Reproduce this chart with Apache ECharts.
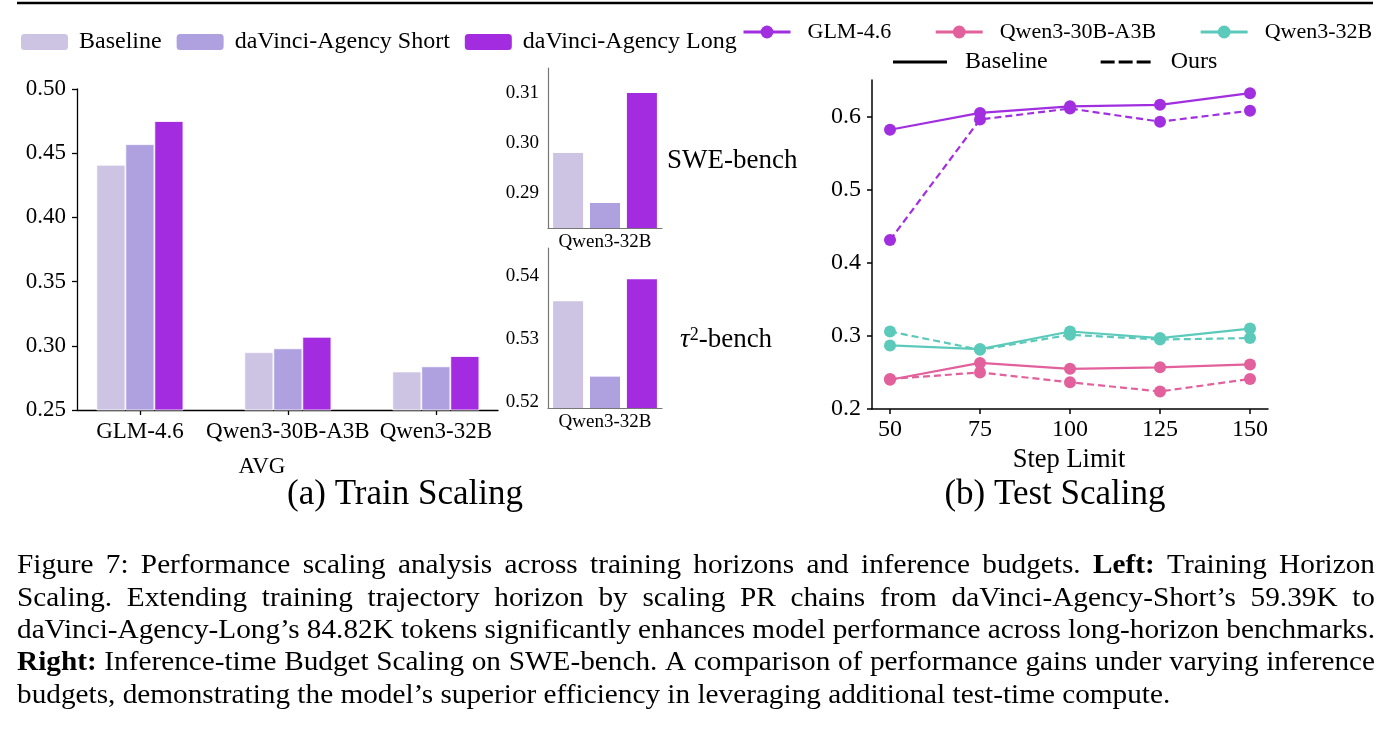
<!DOCTYPE html>
<html>
<head>
<meta charset="utf-8">
<script src="https://cdn.jsdelivr.net/npm/echarts@6.0.0/dist/echarts.min.js"></script>
<style>
html, body { margin: 0; padding: 0; background: #fff; }
#chart { width: 1392px; height: 739px; }
</style>
</head>
<body>
<div id="chart"></div>
<script>
// (a) train scaling - AVG
var models = ["GLM-4.6", "Qwen3-30B-A3B", "Qwen3-32B"];
var barNames = ["Baseline", "daVinci-Agency Short", "daVinci-Agency Long"];
var avgBaseline = [0.441, 0.295, 0.280];
var avgShort = [0.457, 0.298, 0.284];
var avgLong = [0.475, 0.307, 0.292];

// insets (Qwen3-32B only), order: baseline, short, long
var insetModel = ["Qwen3-32B"];
var sweValues = [0.298, 0.288, 0.310];
var tauValues = [0.536, 0.524, 0.5395];
var sweTicks = [0.29, 0.30, 0.31];
var tauTicks = [0.52, 0.53, 0.54];

// (b) test scaling
var stepLimits = [50, 75, 100, 125, 150];
var testTicks = [0.2, 0.3, 0.4, 0.5, 0.6];
var glmBaseline = [0.582, 0.605, 0.614, 0.616, 0.632];
var glmOurs = [0.431, 0.596, 0.611, 0.593, 0.608];
var q30Baseline = [0.240, 0.263, 0.255, 0.257, 0.261];
var q30Ours = [0.241, 0.250, 0.2365, 0.224, 0.241];
var q32Baseline = [0.287, 0.282, 0.306, 0.297, 0.310];
var q32Ours = [0.306, 0.281, 0.3015, 0.295, 0.297];

var captionLines = [
	"Figure 7: Performance scaling analysis across training horizons and inference budgets. **Left:** Training Horizon",
	"Scaling.  Extending training trajectory horizon by scaling PR chains from daVinci-Agency-Short\u2019s 59.39K to",
	"daVinci-Agency-Long\u2019s 84.82K tokens significantly enhances model performance across long-horizon benchmarks.",
	"**Right:** Inference-time Budget Scaling on SWE-bench. A comparison of performance gains under varying inference",
	"budgets, demonstrating the model\u2019s superior efficiency in leveraging additional test-time compute."
];

var FONT = "Liberation Serif";
var barColors = ["#cdc4e3", "#afa0e0", "#a32be0"];
var lineColors = ["#a12fe0", "#e2609c", "#5ccabb"];

function pairs(xs, ys) {
	return xs.map(function(x, i) { return [x, ys[i]]; });
}

function blackAxis(w) {
	return { show: true, onZero: false, lineStyle: { color: "#000", width: w } };
}

function labelStyle(size, extra) {
	var o = { color: "#000", fontFamily: FONT, fontSize: size };
	for (var k in extra) o[k] = extra[k];
	return o;
}

function font(size, bold) {
	return (bold ? "bold " : "") + size + "px '" + FONT + "'";
}

// caption: justified lines, word by word, slightly widened glyphs
function captionGraphics() {
	var ctx = document.createElement("canvas").getContext("2d");
	var size = 28, sx = 1.045, left = 17, right = 1375, y0 = 566, step = 32.3;
	var out = [];
	captionLines.forEach(function(line, li) {
		var words = line.split(/ +/).map(function(w) {
			var bold = /^\*\*.*\*\*$/.test(w);
			return { text: bold ? w.slice(2, -2) : w, bold: bold };
		});
		var total = 0;
		words.forEach(function(w) {
			ctx.font = font(size, w.bold);
			w.width = ctx.measureText(w.text).width * sx;
			total += w.width;
		});
		var last = li === captionLines.length - 1;
		ctx.font = font(size);
		var gap = last ? ctx.measureText(" ").width * sx : (right - left - total) / (words.length - 1);
		var x = left;
		words.forEach(function(w) {
			out.push({
				type: "text", x: x, y: y0 + li * step, scaleX: sx, originX: 0,
				style: { text: w.text, fill: "#000", font: font(size, w.bold), textVerticalAlign: "middle" }
			});
			x += w.width + gap;
		});
	});
	return out;
}

var series = [];
[avgBaseline, avgShort, avgLong].forEach(function(vals, k) {
	series.push({
		name: barNames[k], type: "bar", xAxisIndex: 0, yAxisIndex: 0,
		data: pairs([0, 1, 2], vals), barWidth: 29, barGap: "0%",
		itemStyle: { color: barColors[k], borderColor: "#fff", borderWidth: 0.8 }
	});
	series.push({
		name: barNames[k], type: "bar", xAxisIndex: 1, yAxisIndex: 1,
		data: [sweValues[k]], barWidth: 30, barGap: "23%",
		itemStyle: { color: barColors[k] }
	});
	series.push({
		name: barNames[k], type: "bar", xAxisIndex: 2, yAxisIndex: 2,
		data: [tauValues[k]], barWidth: 30, barGap: "23%",
		itemStyle: { color: barColors[k] }
	});
});

// solid (baseline) first so the legend picks the solid style
var lineSets = [[glmBaseline, glmOurs], [q30Baseline, q30Ours], [q32Baseline, q32Ours]];
lineSets.forEach(function(set, k) {
	set.forEach(function(vals, j) {
		series.push({
			name: models[k], type: "line", xAxisIndex: 3, yAxisIndex: 3,
			data: pairs(stepLimits, vals), symbol: "circle", symbolSize: 12,
			color: lineColors[k],
			lineStyle: { width: 2.2, type: j === 1 ? [7, 4] : "solid" },
			z: j === 1 ? 2 : 3
		});
	});
});
// style-only entries for the second legend row
series.push({ name: "style-Baseline", type: "line", xAxisIndex: 3, yAxisIndex: 3, data: [], color: "#000", symbol: "none" });
series.push({ name: "style-Ours", type: "line", xAxisIndex: 3, yAxisIndex: 3, data: [], color: "#000", symbol: "none" });

var insetAxisLine = { show: true, onZero: false, lineStyle: { color: "#777", width: 1.2 } };

var option = {
	backgroundColor: "#fff",
	animation: false,
	grid: [
		{ left: 77, top: 89, width: 421, height: 321, outerBoundsMode: "none" },
		{ left: 548, top: 68, width: 114, height: 160, outerBoundsMode: "none" },
		{ left: 548, top: 248, width: 114, height: 160, outerBoundsMode: "none" },
		{ left: 872, top: 80, width: 396, height: 329, outerBoundsMode: "none" }
	],
	legend: [
		{
			data: barNames, left: 19, top: 30, padding: 0, itemWidth: 49, itemHeight: 18, itemGap: 13,
			selectedMode: false, textStyle: labelStyle(24, { padding: [0, 0, 0, 5] })
		},
		{
			data: models, left: 742, top: 21, padding: 0, itemWidth: 47, itemHeight: 16, itemGap: 43,
			selectedMode: false, lineStyle: { width: 3 },
			textStyle: labelStyle(22, { padding: [0, 0, 0, 12] })
		},
		{
			data: [
				{ name: "style-Baseline", icon: "path://M0,0H54V3H0Z" },
				{ name: "style-Ours", icon: "path://M0,0H14V3H0Z M18,0H32V3H18Z M36,0H50V3H36Z" }
			],
			left: 893, top: 50, padding: 0, itemWidth: 54, itemHeight: 3, itemGap: 53,
			selectedMode: false, itemStyle: { borderWidth: 0 },
			formatter: function(n) { return n.replace("style-", ""); },
			textStyle: labelStyle(24, { padding: [0, 0, 0, 13] })
		}
	],
	xAxis: [
		{
			gridIndex: 0, type: "value", min: -0.425, max: 2.42,
			axisLine: blackAxis(1.3),
			axisTick: { show: true, customValues: [0, 1, 2], length: 5, lineStyle: { color: "#000", width: 1.3 } },
			axisLabel: labelStyle(23, { customValues: [0, 1, 2], margin: 10,
				formatter: function(v) { return models[Math.round(v)]; } }),
			splitLine: { show: false }
		},
		{
			gridIndex: 1, type: "category", data: insetModel,
			axisLine: insetAxisLine, axisTick: { show: false },
			axisLabel: labelStyle(19, { margin: 5 })
		},
		{
			gridIndex: 2, type: "category", data: insetModel,
			axisLine: insetAxisLine, axisTick: { show: false },
			axisLabel: labelStyle(19, { margin: 5 })
		},
		{
			gridIndex: 3, type: "value", min: 45, max: 155,
			axisLine: blackAxis(1.5),
			axisTick: { show: true, customValues: stepLimits, length: 5, lineStyle: { color: "#000", width: 1.5 } },
			axisLabel: labelStyle(24, { customValues: stepLimits, margin: 9 }),
			splitLine: { show: false }
		}
	],
	yAxis: [
		{
			gridIndex: 0, type: "value", min: 0.25, max: 0.5, interval: 0.05,
			axisLine: blackAxis(1.3),
			axisTick: { show: true, length: 5, lineStyle: { color: "#000", width: 1.3 } },
			axisLabel: labelStyle(23, { margin: 11, formatter: function(v) { return v.toFixed(2); } }),
			splitLine: { show: false }
		},
		{
			gridIndex: 1, type: "value", min: 0.283, max: 0.315,
			axisLine: insetAxisLine, axisTick: { show: false },
			axisLabel: labelStyle(19, { customValues: sweTicks, margin: 9, formatter: function(v) { return v.toFixed(2); } }),
			splitLine: { show: false }
		},
		{
			gridIndex: 2, type: "value", min: 0.519, max: 0.5445,
			axisLine: insetAxisLine, axisTick: { show: false },
			axisLabel: labelStyle(19, { customValues: tauTicks, margin: 9, formatter: function(v) { return v.toFixed(2); } }),
			splitLine: { show: false }
		},
		{
			gridIndex: 3, type: "value", min: 0.2, max: 0.65,
			axisLine: blackAxis(1.5),
			axisTick: { show: true, customValues: testTicks, length: 5, lineStyle: { color: "#000", width: 1.5 } },
			axisLabel: labelStyle(24, { customValues: testTicks, margin: 11, formatter: function(v) { return v.toFixed(1); } }),
			splitLine: { show: false }
		}
	],
	graphic: [
		{ type: "line", shape: { x1: 17, y1: 3, x2: 1373, y2: 3 }, style: { stroke: "#000", lineWidth: 2.5 } },
		{ type: "text", x: 262, y: 467, style: { text: "AVG", fill: "#000", font: font(23), textAlign: "center", textVerticalAlign: "middle" } },
		{ type: "text", x: 405, y: 495, style: { text: "(a) Train Scaling", fill: "#000", font: font(35), textAlign: "center", textVerticalAlign: "middle" } },
		{ type: "text", x: 667, y: 161, style: { text: "SWE-bench", fill: "#000", font: font(27), textVerticalAlign: "middle" } },
		{
			type: "text", x: 680, y: 340,
			style: {
				text: "{t|\u03c4}{s|2}{n|-bench}", fill: "#000", textVerticalAlign: "middle",
				rich: {
					t: { fontFamily: FONT, fontSize: 27, fontStyle: "italic", fill: "#000" },
					s: { fontFamily: FONT, fontSize: 18, verticalAlign: "top", fill: "#000" },
					n: { fontFamily: FONT, fontSize: 27, fill: "#000" }
				}
			}
		},
		{ type: "text", x: 1069, y: 460, style: { text: "Step Limit", fill: "#000", font: font(26.5), textAlign: "center", textVerticalAlign: "middle" } },
		{ type: "text", x: 1055, y: 495, style: { text: "(b) Test Scaling", fill: "#000", font: font(35), textAlign: "center", textVerticalAlign: "middle" } }
	].concat(captionGraphics()),
	series: series
};

var chart = echarts.init(document.getElementById("chart"));
chart.setOption(option);
</script>
</body>
</html>
